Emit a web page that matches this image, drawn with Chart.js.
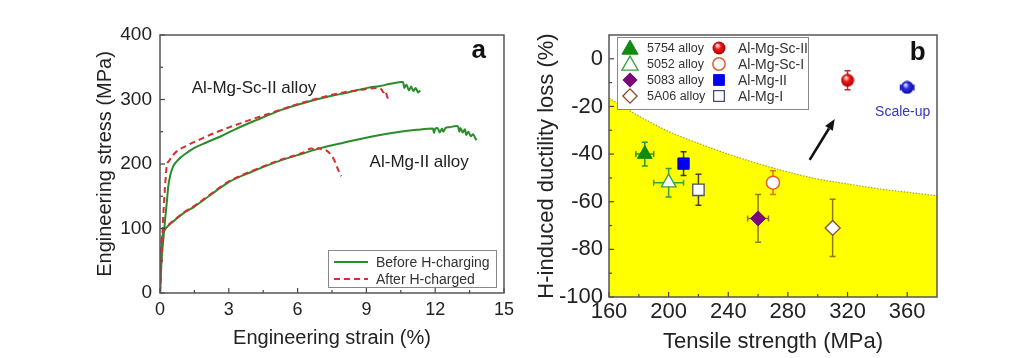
<!DOCTYPE html>
<html><head><meta charset="utf-8">
<script src="https://cdn.jsdelivr.net/npm/chart.js@4.4.1/dist/chart.umd.min.js"></script>
<style>
html,body{margin:0;padding:0;background:#fff;}
#wrap{position:relative;width:1024px;height:358px;overflow:hidden;background:#fff;}
#ca{position:absolute;left:0;top:0;}
#cb{position:absolute;left:520px;top:0;}
</style></head><body>
<div id="wrap"><canvas id="ca" width="520" height="358"></canvas><canvas id="cb" width="504" height="358"></canvas></div>
<script>
// ---------- Panel a data (engineering strain %, stress MPa) ----------
const strainScIIBefore = [0, 0.07, 0.15, 0.22, 0.30, 0.36, 0.45, 0.57, 0.75, 0.93, 1.2, 1.5, 2.0, 2.66, 3.23, 4.2, 5.3, 6.5, 7.4, 8.2, 9.05, 9.6, 10.0, 10.3, 10.5, 10.6, 10.65, 10.75, 10.85, 10.95, 11.05, 11.15, 11.25, 11.35];
const stressScIIBefore = [0, 51, 85, 113, 142, 165, 183, 196, 205, 211, 218, 225, 233, 243, 253, 268, 284, 297, 305, 311, 318, 321, 324, 326, 327, 327, 318, 323, 314, 320, 313, 318, 311, 314];
const strainScIIAfter = [0, 0.05, 0.10, 0.14, 0.22, 0.29, 0.40, 0.65, 1.2, 1.8, 2.37, 3.5, 5.0, 6.5, 8.0, 8.8, 9.48, 9.65, 9.75, 9.82, 9.9, 10.0];
const stressScIIAfter = [0, 40, 85, 118, 165, 196, 205, 217, 229, 239, 248, 263, 281, 298, 311, 315, 318, 316, 311, 314, 305, 297];
const strainMgIIBefore = [0, 0.04, 0.07, 0.14, 0.3, 0.65, 1.0, 1.5, 2.2, 3.0, 4.0, 5.3, 6.2, 7.04, 8.0, 9.3, 10.47, 11.2, 11.9, 11.95, 12.0, 12.1, 12.2, 12.3, 12.35, 12.45, 12.6, 12.93, 13.0, 13.05, 13.1, 13.2, 13.3, 13.35, 13.45, 13.55, 13.65, 13.75, 13.8];
const stressMgIIBefore = [0, 50, 77, 93, 102, 113, 123, 134, 152, 172, 188, 206, 216, 225, 233, 243, 250, 253, 255, 248, 255, 256, 249, 255, 250, 256, 257, 259, 258, 250, 256, 249, 254, 245, 250, 243, 246, 240, 237];
const strainMgIIAfter = [0, 0.03, 0.06, 0.14, 0.3, 0.65, 1.0, 1.5, 2.2, 3.0, 4.0, 5.3, 6.2, 6.6, 6.8, 6.9, 7.05, 7.2, 7.33, 7.5, 7.6, 7.7, 7.83, 7.9];
const stressMgIIAfter = [0, 45, 80, 94, 103, 114, 124, 135, 153, 173, 189, 207, 217, 224, 221, 225, 223, 222, 219, 212, 206, 197, 186, 181];
const legendA = ['Before H-charging', 'After H-charged'];

// ---------- Panel b data ----------
const seriesNames = ['5754 alloy', '5052 alloy', '5083 alloy', '5A06 alloy', 'Al-Mg-Sc-II', 'Al-Mg-Sc-I', 'Al-Mg-II', 'Al-Mg-I', 'Scale-up'];
const tensileStrength = [184, 200, 260, 310, 320, 270, 210, 220, 360];
const ductilityLoss = [-40, -52, -67, -71, -9, -52, -44, -55, -12];
const strengthErr = [6, 10, 7, 3, 3, 3, 3, 3, 4.5];
const lossErr = [5, 6, 10, 12, 4, 5, 5, 6.5, 2];
const boundaryStrength = [160, 180, 200, 220, 240, 260, 280, 300, 320, 340, 360, 380];
const boundaryLoss = [-16.5, -24, -30.5, -35.5, -40, -44, -47.5, -50.5, -52.5, -54.5, -56, -57.5];

const FONT = "'Liberation Sans', Arial, Helvetica, sans-serif";
Chart.defaults.font.family = FONT;
Chart.defaults.color = '#222';

const toXY = (xs, ys) => xs.map((v, i) => ({x: v, y: ys[i]}));

function makeSphere(light, base, dark, d) {
  const c = document.createElement('canvas'); c.width = d; c.height = d;
  const g = c.getContext('2d'); const r = d / 2;
  const grad = g.createRadialGradient(r * 0.75, r * 0.6, r * 0.08, r, r, r);
  grad.addColorStop(0, light); grad.addColorStop(0.4, base); grad.addColorStop(1, dark);
  g.fillStyle = grad; g.beginPath(); g.arc(r, r, r - 0.5, 0, Math.PI * 2); g.fill();
  return c;
}
const redSphere = makeSphere('#fff0f0', '#f01818', '#a00000', 14);
const blueSphere = makeSphere('#e8e8ff', '#2a2ae8', '#0a0a90', 14);

// Marker styles (per series, same order as seriesNames)
const markerStyles = [
  {shape: 'triangle', r: 8.5, fill: '#108a10', stroke: '#108a10', lw: 1, err: '#2a9a2a'},
  {shape: 'triangle', r: 8.5, fill: '#ffffff', stroke: '#3aa03a', lw: 1.3, err: '#3aa03a'},
  {shape: 'rectRot', r: 7.5, fill: '#7a0a7a', stroke: '#7a0a7a', lw: 1, err: '#8a7a10'},
  {shape: 'rectRot', r: 7.5, fill: '#ffffff', stroke: '#8b4a2a', lw: 1.3, err: '#8a7a10'},
  {shape: 'sphere', img: redSphere, fill: '#f01818', stroke: '#a00000', lw: 1, err: '#d02020'},
  {shape: 'circle', r: 6.5, fill: '#ffffff', stroke: '#e0602a', lw: 1.5, err: '#e07030'},
  {shape: 'rect', r: 8, fill: '#0000ee', stroke: '#0000ee', lw: 1, err: '#333355'},
  {shape: 'rect', r: 8, fill: '#ffffff', stroke: '#4a4a7a', lw: 1.3, err: '#444444'},
  {shape: 'sphere', img: blueSphere, fill: '#2a2ae8', stroke: '#0a0a90', lw: 1, err: '#2a2ae8'}
];

function drawMarker(ctx, st, x, y, scale) {
  const k = scale || 1;
  ctx.save();
  if (st.shape === 'sphere') {
    ctx.drawImage(st.img, x - st.img.width / 2, y - st.img.height / 2);
    ctx.restore(); return;
  }
  ctx.fillStyle = st.fill; ctx.strokeStyle = st.stroke; ctx.lineWidth = st.lw;
  const r = st.r * k;
  ctx.beginPath();
  if (st.shape === 'triangle') {
    for (let i = 0; i < 3; i++) {
      const a = i * 2 * Math.PI / 3;
      const px = x + Math.sin(a) * r, py = y - Math.cos(a) * r;
      if (i === 0) ctx.moveTo(px, py); else ctx.lineTo(px, py);
    }
    ctx.closePath();
  } else if (st.shape === 'rectRot') {
    ctx.moveTo(x - r, y); ctx.lineTo(x, y - r); ctx.lineTo(x + r, y); ctx.lineTo(x, y + r); ctx.closePath();
  } else if (st.shape === 'rect') {
    const s = r * Math.SQRT1_2; ctx.rect(x - s, y - s, 2 * s, 2 * s);
  } else {
    ctx.arc(x, y, r, 0, Math.PI * 2);
  }
  ctx.fill(); ctx.stroke();
  ctx.restore();
}

// Frame + inward ticks
const frameTicks = {
  id: 'frameTicks',
  afterDatasetsDraw(chart) {
    const {ctx, chartArea: a, scales: {x, y}} = chart;
    ctx.save();
    ctx.strokeStyle = '#444'; ctx.lineWidth = 1.2;
    const xt = x.ticks.map(t => t.value), yt = y.ticks.map(t => t.value);
    const minors = (vals, min, max) => {
      const out = []; const st = vals[1] - vals[0];
      vals.forEach(v => { const m = v + st / 2; if (m > min && m < max) out.push(m); const m0 = v - st / 2; if (m0 > min && m0 < max && !out.includes(m0)) out.push(m0); });
      return out;
    };
    const tx = (v, len) => { const p = x.getPixelForValue(v); ctx.beginPath(); ctx.moveTo(p, a.bottom); ctx.lineTo(p, a.bottom - len); ctx.stroke(); };
    const ty = (v, len) => { const p = y.getPixelForValue(v); ctx.beginPath(); ctx.moveTo(a.left, p); ctx.lineTo(a.left + len, p); ctx.stroke(); };
    xt.forEach(v => tx(v, 5)); minors(xt, x.min, x.max).forEach(v => tx(v, 3));
    yt.forEach(v => ty(v, 5)); minors(yt, y.min, y.max).forEach(v => ty(v, 3));
    ctx.strokeStyle = '#555'; ctx.lineWidth = 1.5;
    ctx.strokeRect(a.left, a.top, a.right - a.left, a.bottom - a.top);
    ctx.restore();
  }
};

// Text annotations in data coordinates
const textNotes = {
  id: 'textNotes',
  afterDraw(chart, args, opts) {
    const {ctx, scales: {x, y}} = chart;
    (opts.items || []).forEach(it => {
      ctx.save();
      ctx.font = it.font; ctx.fillStyle = it.color; ctx.textAlign = it.align; ctx.textBaseline = 'middle';
      ctx.fillText(it.text, x.getPixelForValue(it.x), y.getPixelForValue(it.y));
      ctx.restore();
    });
  }
};

// Legend for panel a (inside plot area, bottom right)
const legendAPlugin = {
  id: 'legendA',
  afterDraw(chart) {
    const {ctx, chartArea: a} = chart;
    const w = 168, h = 37, bx = a.right - 8 - w, by = a.bottom - 6 - h;
    ctx.save();
    ctx.fillStyle = '#fff'; ctx.fillRect(bx, by, w, h);
    ctx.strokeStyle = '#888'; ctx.lineWidth = 1; ctx.strokeRect(bx + 0.5, by + 0.5, w, h);
    const dsets = [chart.data.datasets[0], chart.data.datasets[2]];
    dsets.forEach((ds, i) => {
      const yy = by + 12 + i * 17;
      ctx.strokeStyle = ds.borderColor; ctx.lineWidth = 2; ctx.setLineDash(ds.borderDash || []);
      ctx.beginPath(); ctx.moveTo(bx + 6, yy); ctx.lineTo(bx + 40, yy); ctx.stroke();
      ctx.setLineDash([]);
      ctx.fillStyle = '#333'; ctx.font = '14px ' + FONT; ctx.textAlign = 'left'; ctx.textBaseline = 'middle';
      ctx.fillText(legendA[i], bx + 48, yy + 1);
    });
    ctx.restore();
  }
};

const GREEN = '#2a8c2a', RED = '#d43030';
new Chart(document.getElementById('ca'), {
  type: 'line',
  data: {datasets: [
    {label: legendA[0], data: toXY(strainScIIBefore, stressScIIBefore), borderColor: GREEN, borderWidth: 2, pointRadius: 0, cubicInterpolationMode: 'monotone', order: 2},
    {label: legendA[0], data: toXY(strainMgIIBefore, stressMgIIBefore), borderColor: GREEN, borderWidth: 2, pointRadius: 0, cubicInterpolationMode: 'monotone', order: 2},
    {label: legendA[1], data: toXY(strainScIIAfter, stressScIIAfter), borderColor: RED, borderWidth: 2, borderDash: [6, 4], pointRadius: 0, cubicInterpolationMode: 'monotone', order: 1},
    {label: legendA[1], data: toXY(strainMgIIAfter, stressMgIIAfter), borderColor: RED, borderWidth: 2, borderDash: [6, 4], pointRadius: 0, cubicInterpolationMode: 'monotone', order: 1}
  ]},
  options: {
    responsive: false, animation: false, events: [],
    layout: {padding: {top: 35, right: 12, left: 0, bottom: 0}},
    plugins: {
      legend: {display: false}, tooltip: {enabled: false},
      textNotes: {items: [
        {text: 'Al-Mg-Sc-II alloy', x: 1.38, y: 318, font: '17px ' + FONT, color: '#222', align: 'left'},
        {text: 'Al-Mg-II alloy', x: 9.14, y: 203, font: '17px ' + FONT, color: '#222', align: 'left'},
        {text: 'a', x: 13.9, y: 375, font: 'bold 26px ' + FONT, color: '#111', align: 'center'}
      ]}
    },
    scales: {
      x: {type: 'linear', min: 0, max: 15,
        ticks: {stepSize: 3, includeBounds: false, font: {size: 18}, color: '#222', padding: 6},
        grid: {display: false, drawTicks: false}, border: {display: false},
        title: {display: true, text: 'Engineering strain (%)', font: {size: 20}, color: '#222', padding: {top: 0, bottom: 8}},
        afterFit(s) { s.height = 65; }},
      y: {type: 'linear', min: 0, max: 400,
        ticks: {stepSize: 100, includeBounds: false, font: {size: 19}, color: '#222', padding: 8},
        grid: {display: false, drawTicks: false}, border: {display: false},
        title: {display: true, text: 'Engineering stress (MPa)', font: {size: 20}, color: '#222', padding: {top: 93, bottom: 0}},
        afterFit(s) { s.width = 160; }}
    }
  },
  plugins: [frameTicks, textNotes, legendAPlugin]
});

// ---------- Panel b ----------
const errorBars = {
  id: 'errorBars',
  beforeDatasetDraw(chart, args) {
    const ds = chart.data.datasets[args.index];
    if (ds.xErr === undefined) return;
    const {ctx, scales: {x, y}} = chart;
    ctx.save(); ctx.strokeStyle = ds.errColor; ctx.lineWidth = 1.5;
    ds.data.forEach(p => {
      const cx = x.getPixelForValue(p.x), cy = y.getPixelForValue(p.y);
      const x0 = x.getPixelForValue(p.x - ds.xErr), x1 = x.getPixelForValue(p.x + ds.xErr);
      const y0 = y.getPixelForValue(p.y - ds.yErr), y1 = y.getPixelForValue(p.y + ds.yErr);
      ctx.beginPath();
      ctx.moveTo(x0, cy); ctx.lineTo(x1, cy);
      ctx.moveTo(x0, cy - 3); ctx.lineTo(x0, cy + 3);
      ctx.moveTo(x1, cy - 3); ctx.lineTo(x1, cy + 3);
      ctx.moveTo(cx, y0); ctx.lineTo(cx, y1);
      ctx.moveTo(cx - 3, y0); ctx.lineTo(cx + 3, y0);
      ctx.moveTo(cx - 3, y1); ctx.lineTo(cx + 3, y1);
      ctx.stroke();
    });
    ctx.restore();
  }
};

const customMarkers = {
  id: 'customMarkers',
  afterDatasetDraw(chart, args) {
    const ds = chart.data.datasets[args.index];
    if (!ds.markerStyle) return;
    const {ctx, scales: {x, y}} = chart;
    ds.data.forEach(p => drawMarker(ctx, ds.markerStyle, x.getPixelForValue(p.x), y.getPixelForValue(p.y)));
  }
};

const arrowPlugin = {
  id: 'arrow',
  afterDatasetsDraw(chart, args, opts) {
    const {ctx, scales: {x, y}} = chart;
    const x0 = x.getPixelForValue(opts.from[0]), y0 = y.getPixelForValue(opts.from[1]);
    const x1 = x.getPixelForValue(opts.to[0]), y1 = y.getPixelForValue(opts.to[1]);
    const ang = Math.atan2(y1 - y0, x1 - x0), L = 11, W = 4.5;
    const bx = x1 - Math.cos(ang) * L, by = y1 - Math.sin(ang) * L;
    ctx.save();
    ctx.strokeStyle = '#111'; ctx.fillStyle = '#111'; ctx.lineWidth = 2.6;
    ctx.beginPath(); ctx.moveTo(x0, y0); ctx.lineTo(bx, by); ctx.stroke();
    ctx.beginPath(); ctx.moveTo(x1, y1);
    ctx.lineTo(bx + Math.sin(ang) * W, by - Math.cos(ang) * W);
    ctx.lineTo(bx - Math.sin(ang) * W, by + Math.cos(ang) * W);
    ctx.closePath(); ctx.fill();
    ctx.restore();
  }
};

const legendBPlugin = {
  id: 'legendB',
  afterDraw(chart) {
    const {ctx, chartArea: a} = chart;
    const bx = a.left + 8, by = a.top + 2, w = 191, h = 72;
    ctx.save();
    ctx.fillStyle = '#fff'; ctx.fillRect(bx, by, w, h);
    ctx.strokeStyle = '#888'; ctx.lineWidth = 1; ctx.strokeRect(bx + 0.5, by + 0.5, w, h);
    for (let i = 0; i < 8; i++) {
      const col = i < 4 ? 0 : 1, row = i % 4;
      const yy = by + 11 + row * 16;
      const mx = col === 0 ? bx + 13 : bx + 102;
      const tx = col === 0 ? bx + 30 : bx + 121;
      const st = markerStyles[i];
      drawMarker(ctx, st, mx, st.shape === 'triangle' ? yy + 1.5 : yy, st.shape === 'triangle' ? 1.1 : 0.95);
      ctx.fillStyle = '#333'; ctx.textAlign = 'left'; ctx.textBaseline = 'middle';
      ctx.font = (col === 0 ? '12.5px ' : '14px ') + FONT;
      ctx.fillText(seriesNames[i], tx, yy + 1);
    }
    ctx.restore();
  }
};

const pointDatasets = seriesNames.map((name, i) => ({
  type: 'scatter', label: name,
  data: [{x: tensileStrength[i], y: ductilityLoss[i]}],
  pointRadius: 0, showLine: false,
  xErr: strengthErr[i], yErr: lossErr[i],
  errColor: markerStyles[i].err, markerStyle: markerStyles[i], order: 0
}));

new Chart(document.getElementById('cb'), {
  type: 'scatter',
  data: {datasets: [
    {type: 'line', label: 'boundary', data: toXY(boundaryStrength, boundaryLoss), fill: 'start',
      backgroundColor: '#ffff00', borderColor: '#a8a820', borderWidth: 1.2, borderDash: [1.5, 1.5],
      pointRadius: 0, cubicInterpolationMode: 'monotone', order: 10},
    ...pointDatasets
  ]},
  options: {
    responsive: false, animation: false, events: [],
    layout: {padding: {top: 35, right: 87, left: 0, bottom: 0}},
    plugins: {
      legend: {display: false}, tooltip: {enabled: false},
      arrow: {from: [294.6, -42.4], to: [311.4, -25.3]},
      textNotes: {items: [
        {text: 'Scale-up', x: 357, y: -22.3, font: '14px ' + FONT, color: '#3535c0', align: 'center'},
        {text: 'b', x: 367, y: 2.5, font: 'bold 26px ' + FONT, color: '#111', align: 'center'}
      ]}
    },
    scales: {
      x: {type: 'linear', min: 160, max: 380,
        ticks: {stepSize: 40, includeBounds: false, font: {size: 22}, color: '#222', padding: 2},
        grid: {display: false, drawTicks: false}, border: {display: false},
        title: {display: true, text: 'Tensile strength (MPa)', font: {size: 22}, color: '#222', padding: {top: 0, bottom: 3}},
        afterFit(s) { s.height = 61; }},
      y: {type: 'linear', min: -100, max: 10,
        ticks: {stepSize: 20, includeBounds: false, font: {size: 22}, color: '#222', padding: 6},
        grid: {display: false, drawTicks: false}, border: {display: false},
        title: {display: true, text: 'H-induced ductility loss (%)', font: {size: 22}, color: '#222', padding: {top: 14, bottom: 0}},
        afterFit(s) { s.width = 89; }}
    }
  },
  plugins: [errorBars, customMarkers, frameTicks, arrowPlugin, textNotes, legendBPlugin]
});
</script>
</body></html>
